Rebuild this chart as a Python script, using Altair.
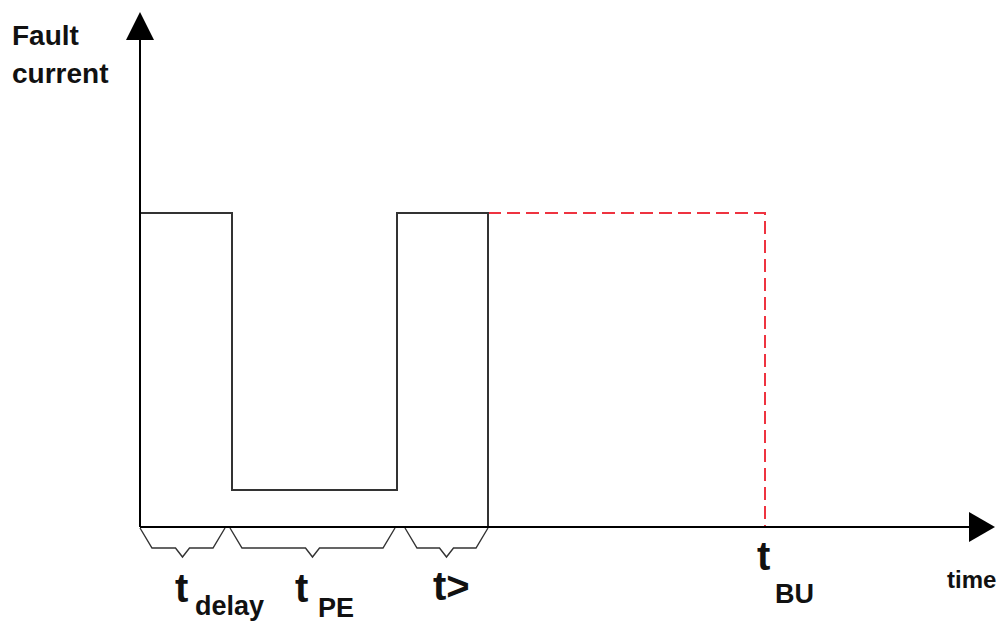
import altair as alt
import pandas as pd

# ---- data (time and current in arbitrary diagram units) ----
# fault current trace (solid)
trace_time = [0.0, 0.0, 9.2, 9.2, 25.7, 25.7, 34.8, 34.8]
trace_current = [0.0, 31.4, 31.4, 3.7, 3.7, 31.4, 31.4, 0.0]

# back-up trace (dashed red)
backup_time = [34.8, 62.5, 62.5]
backup_current = [31.4, 31.4, 0.0]

# braces under the time axis: interval start / end
brace_start = [0.0, 9.0, 26.5]
brace_end = [8.5, 25.5, 34.8]

# axis extents and arrowheads
axis_time_max = 83.0
axis_current_max = 48.7
arrow_time = [0.0, 84.2]
arrow_current = [50.1, 0.0]

# labels
big_text = ["t", "t", "t>", "t"]
big_time = [3.5, 15.5, 29.3, 61.7]
big_level = [-7.5, -7.5, -7.3, -4.3]

sub_text = ["delay", "PE", "BU"]
sub_time = [5.5, 17.8, 63.5]
sub_level = [-8.8, -9.0, -7.6]

title_text = ["Fault", "current", "time"]
title_time = [-12.8, -12.8, 80.7]
title_level = [48.2, 44.4, -6.1]
title_size = [28, 28, 24]

# ---- tables ----
trace_df = pd.DataFrame({"t": trace_time, "c": trace_current, "i": range(len(trace_time))})
backup_df = pd.DataFrame({"t": backup_time, "c": backup_current, "i": range(len(backup_time))})

# brace shape (style constants)
TOP, BOT, TIP, INSET, HALF = -0.1, -2.1, -3.0, 1.2, 0.7
rows = []
for k, (s, e) in enumerate(zip(brace_start, brace_end)):
    m = (s + e) / 2
    pts = [(s, TOP), (s + INSET, BOT), (m - HALF, BOT), (m, TIP),
           (m + HALF, BOT), (e - INSET, BOT), (e, TOP)]
    for j, (x, y) in enumerate(pts):
        rows.append({"b": k, "i": j, "t": x, "c": y})
brace_df = pd.DataFrame(rows)

axes_df = pd.DataFrame({
    "t": [0.0, 0.0], "c": [0.0, 0.0],
    "t2": [0.0, axis_time_max], "c2": [axis_current_max, 0.0],
})
arrow_df = pd.DataFrame({"t": arrow_time, "c": arrow_current, "dir": ["up", "right"]})
big_df = pd.DataFrame({"txt": big_text, "t": big_time, "c": big_level})
sub_df = pd.DataFrame({"txt": sub_text, "t": sub_time, "c": sub_level})
title_df = pd.DataFrame({"txt": title_text, "t": title_time, "c": title_level, "fs": title_size})

W, H = 991, 616
xs = alt.Scale(domain=[-13.2, -13.2 + W / 10], zero=False, nice=False)
ys = alt.Scale(domain=[51.9 - H / 10, 51.9], zero=False, nice=False)
X = lambda f="t": alt.X(f + ":Q", scale=xs, axis=None)
Y = lambda f="c": alt.Y(f + ":Q", scale=ys, axis=None)

FONT = "Liberation Sans"

axes = alt.Chart(axes_df).mark_rule(color="#000000", strokeWidth=2).encode(
    x=X(), y=Y(), x2="t2:Q", y2="c2:Q")

up = alt.Chart(arrow_df[arrow_df.dir == "up"]).mark_point(
    shape="M0,-1L1,1L-1,1Z", size=784, filled=True, color="#000000", opacity=1
).encode(x=X(), y=Y())
right = alt.Chart(arrow_df[arrow_df.dir == "right"]).mark_point(
    shape="M1,0L-1,-1.15L-1,1.15Z", size=676, filled=True, color="#000000", opacity=1
).encode(x=X(), y=Y())

trace = alt.Chart(trace_df).mark_line(color="#333333", strokeWidth=2).encode(
    x=X(), y=Y(), order="i:Q")
backup = alt.Chart(backup_df).mark_line(
    color="#ee3340", strokeWidth=2, strokeDash=[13, 6]).encode(
    x=X(), y=Y(), order="i:Q")
braces = alt.Chart(brace_df).mark_line(color="#333333", strokeWidth=1.4).encode(
    x=X(), y=Y(), detail="b:N", order="i:Q")

big = alt.Chart(big_df).mark_text(
    font=FONT, fontWeight="bold", fontSize=40, align="left", baseline="alphabetic",
    color="#111111").encode(x=X(), y=Y(), text="txt:N")
sub = alt.Chart(sub_df).mark_text(
    font=FONT, fontWeight="bold", fontSize=27, align="left", baseline="alphabetic",
    color="#111111").encode(x=X(), y=Y(), text="txt:N")
titles = alt.Chart(title_df).mark_text(
    font=FONT, fontWeight="bold", align="left", baseline="alphabetic",
    color="#111111").encode(x=X(), y=Y(), text="txt:N",
                             size=alt.Size("fs:Q", scale=None, legend=None))

chart = alt.layer(backup, trace, braces, axes, up, right, big, sub, titles).properties(
    width=W, height=H, padding=0, autosize=alt.AutoSizeParams(type="none")
).configure_view(stroke=None)

chart.save("out.html", embed_options={"renderer": "svg", "actions": False})
